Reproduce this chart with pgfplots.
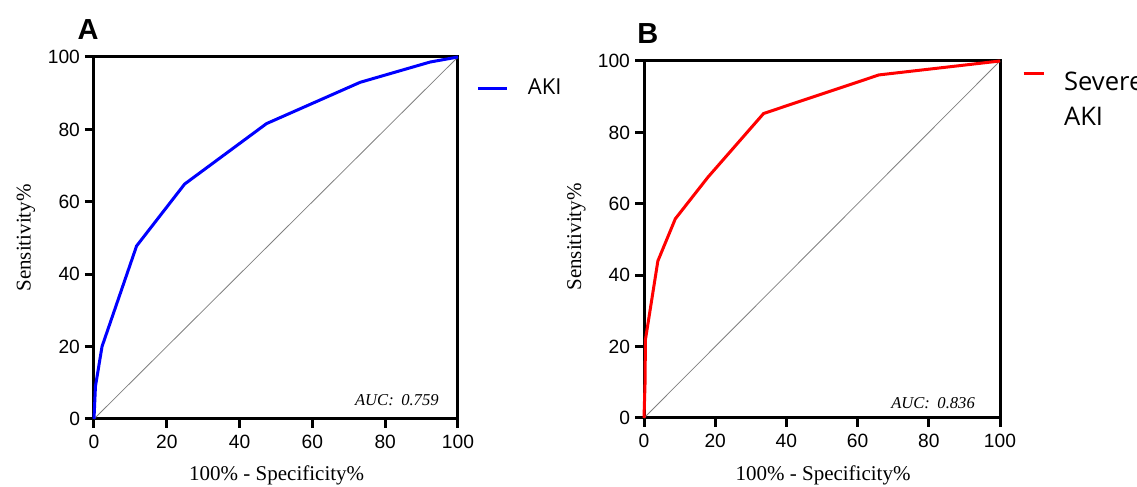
\documentclass[border=0pt]{standalone}
\usepackage{fontspec}
\setmainfont{Liberation Serif}
\setsansfont{Liberation Sans}
\newfontfamily\legfont{Open Sans}
\usepackage{pgfplots}
\pgfplotsset{compat=1.18}

\pgfplotsset{
  rocaxis/.style={
    scale only axis,
    clip=false,
    xmin=0, xmax=100, ymin=0, ymax=100,
    xtick={0,20,...,100}, ytick={0,20,...,100},
    axis line style={line width=1.5pt},
    tick style={black, line width=1.5pt},
    tick align=outside,
    major tick length=4.5pt,
    xtick pos=bottom, ytick pos=left,
    /pgf/number format/assume math mode=true,
    tick label style={font=\sffamily\fontsize{9.6}{11}\selectfont},
    yticklabel style={xshift=1pt},
    label style={font=\rmfamily\fontsize{10.5}{12}\selectfont},
    xlabel={100\% - Specificity\%},
    ylabel={Sensitivity\%},
    legend cell align=left,
    legend style={draw=none, fill=none, inner sep=0pt, outer sep=0pt,
      nodes={inner sep=0pt},
      column sep=9.5pt, row sep=6.7pt},
  }
}

\begin{document}
\begin{tikzpicture}
% panel A
\begin{axis}[rocaxis,
  at={(0pt,0pt)}, anchor=south west,
  width=182pt, height=181pt,
  xlabel style={at={(axis description cs:0.502,-0.155)}, anchor=center},
  ylabel style={at={(axis description cs:-0.187,0.5)}, anchor=center},
  legend style={at={(axis description cs:1.052,0.914)}, anchor=west,
    font=\legfont\fontsize{11}{13}\selectfont},
  legend image code/.code={\draw[#1] (0pt,0pt) -- (14.5pt,0pt);},
]
\addplot[gray, line width=0.4pt, forget plot] coordinates {(0,0) (100,100)};
\addplot[blue, line width=1.5pt] coordinates {
  (0,0) (0.4,9) (2.2,20) (11.7,47.8) (24.9,64.9) (47.4,81.6) (73.1,93.0) (92.3,98.6) (100,100)};
\addlegendentry{AKI}
\node[font=\rmfamily\itshape\fontsize{8.3}{10}\selectfont] at (axis description cs:0.832,0.052) {AUC:\hspace{0.45em}0.759};
\node[font=\sffamily\bfseries\fontsize{14.5}{17}\selectfont] at (axis description cs:-0.016,1.075) {A};
\end{axis}

% panel B
\begin{axis}[rocaxis,
  at={(275pt,0.5pt)}, anchor=south west,
  width=178pt, height=178.5pt,
  xlabel style={at={(axis description cs:0.503,-0.16)}, anchor=center},
  ylabel style={at={(axis description cs:-0.19,0.507)}, anchor=center},
  legend style={at={(axis description cs:1.062,0.968)}, anchor=north west,
    font=\legfont\fontsize{12.8}{15}\selectfont},
  legend image code/.code={\draw[#1] (0pt,4.6pt) -- (10pt,4.6pt);},
]
\addplot[gray, line width=0.4pt, forget plot] coordinates {(0,0) (100,100)};
\addplot[red, line width=1.5pt] coordinates {
  (0,0) (0.3,10) (0.4,21.9) (3.9,44) (8.8,55.8) (18,67.5) (33.6,85.3) (66,96.1) (100,100)};
\addlegendentry{Severe}
\addlegendimage{empty legend}
\addlegendentry{AKI}
\node[font=\rmfamily\itshape\fontsize{8.3}{10}\selectfont] at (axis description cs:0.812,0.042) {AUC:\hspace{0.45em}0.836};
\node[font=\sffamily\bfseries\fontsize{14.5}{17}\selectfont] at (axis description cs:0.011,1.078) {B};
\end{axis}

\pgfresetboundingbox
\path[use as bounding box] (-47pt,-34pt) rectangle (521.5pt,209.5pt);
\end{tikzpicture}
\end{document}
